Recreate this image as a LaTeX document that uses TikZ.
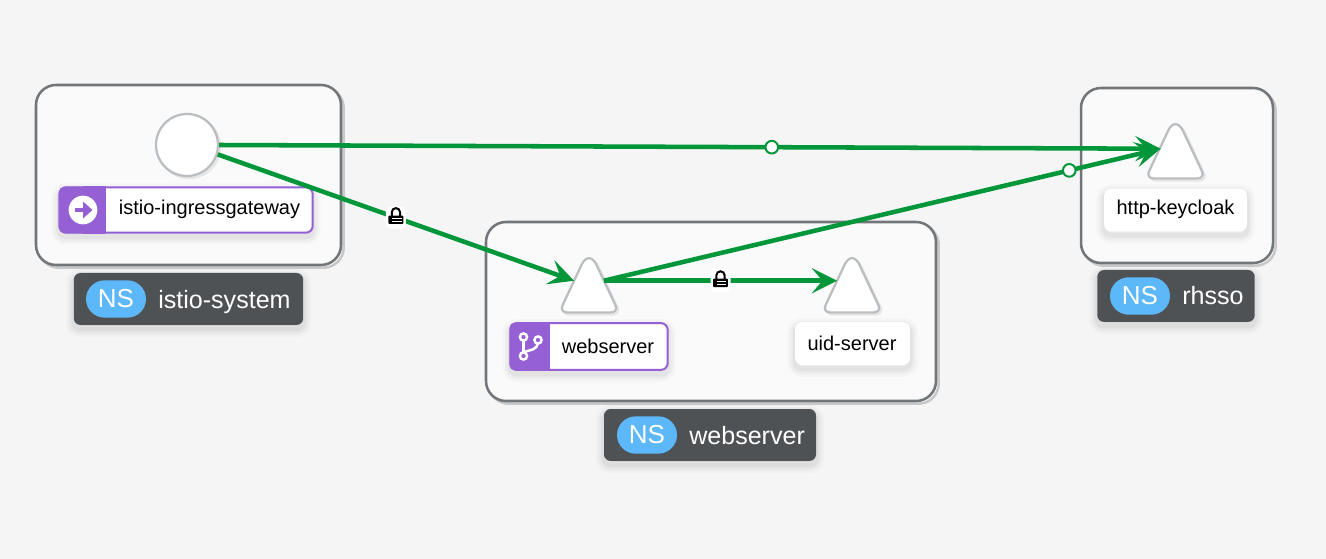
\documentclass[tikz,border=0pt]{standalone}
\usepackage{fontspec}
\setmainfont{Liberation Sans}
\usepackage{xcolor}
\usetikzlibrary{arrows.meta,shapes.geometric}
\definecolor{pagebg}{HTML}{F5F5F5}
\definecolor{boxfill}{HTML}{FAFAFA}
\definecolor{boxline}{HTML}{737679}
\definecolor{edgegreen}{HTML}{009639}
\definecolor{badgepurple}{HTML}{9560D4}
\definecolor{nsdark}{HTML}{4F5255}
\definecolor{nsblue}{HTML}{5CB8F9}
\definecolor{nodeline}{HTML}{BBBEC1}
\tikzset{
  softshadow/.style={
    preaction={draw=black,draw opacity=.02,line width=12pt,transform canvas={yshift=-3pt}},
    preaction={draw=black,draw opacity=.03,line width=8pt,transform canvas={yshift=-3pt}},
    preaction={draw=black,draw opacity=.04,line width=4pt,transform canvas={yshift=-3pt}}},
  nsbox/.style={draw=boxline, fill=boxfill, line width=1.9pt, rounded corners=15pt,
    preaction={draw=black,draw opacity=.18,line width=1.9pt,transform canvas={xshift=2pt,yshift=-2pt}}},
  nslabel/.style={fill=nsdark, rounded corners=5pt, inner sep=0pt, softshadow},
  nspill/.style={fill=nsblue, rounded corners=14pt, minimum width=45pt, minimum height=28pt,
    text=white, font=\fontsize{19.5pt}{19.5pt}\selectfont, inner sep=0pt},
  nstext/.style={text=white, font=\fontsize{18.8pt}{18.8pt}\selectfont, inner sep=0pt},
  gwnode/.style={circle, draw=nodeline, fill=white, line width=1.7pt, minimum size=46.5pt, inner sep=0pt,
    preaction={draw=black,draw opacity=.08,line width=1.7pt,transform canvas={xshift=1.5pt,yshift=-1.5pt}}},
  svcnode/.style={isosceles triangle, isosceles triangle apex angle=50.4, shape border rotate=90,
    anchor=apex, inner sep=0pt, outer sep=0pt, minimum height=47.6pt},
  svcline/.style={draw=nodeline, fill=white, line width=1.7pt,
    preaction={draw=black,draw opacity=.08,line width=1.7pt,transform canvas={xshift=1.5pt,yshift=-1.5pt}}},
  whitelabel/.style={fill=white, rounded corners=5pt, inner sep=0pt, softshadow},
  purplelabel/.style={draw=badgepurple, fill=white, line width=1.5pt, rounded corners=5pt, inner sep=0pt, softshadow},
  badge/.style={fill=badgepurple, rounded corners=4pt, inner sep=0pt},
  labeltext/.style={font=\fontsize{15pt}{15pt}\selectfont, inner sep=0pt},
  flow/.style={draw=edgegreen, line width=3.4pt, -{Stealth[length=19pt,width=19pt,inset=8pt]}},
  dotmark/.style={circle, draw=edgegreen, fill=white, line width=1.5pt, minimum size=9.5pt, inner sep=0pt},
  lockmark/.style={fill=white, rounded corners=4pt, minimum width=15pt, minimum height=17pt, inner sep=0pt},
}
% rounded outline over the anchors of a triangle node
\newcommand{\svcshape}[1]{%
  \draw[svcline] (#1.lower side) [rounded corners=6pt] -- (#1.left corner)
    [rounded corners=13pt] -- (#1.apex) [rounded corners=6pt] -- (#1.right corner) -- cycle;}
% padlock over a lockmark node
\newcommand{\lockicon}[1]{%
  \begin{scope}[shift={(#1.center)}, x=1pt, y=1pt]
    \draw[black, line width=1.5pt] (-3.1,1) -- (-3.1,4) arc (180:0:3.1) -- (3.1,1);
    \fill[black, rounded corners=.7pt] (-5.6,-4.8) rectangle (5.6,1.5);
    \fill[white] (-2.8,-.75) rectangle (4.2,0);
    \fill[white] (-2.8,-3) rectangle (4.2,-2.25);
  \end{scope}}
\begin{document}
\begin{tikzpicture}[x=0.75pt,y=-0.75pt]
    \path[use as bounding box, fill=pagebg] (0,0) rectangle (1326,559);

    % Namespaces
    \draw[nsbox] (36,85) rectangle (341,265);
    \draw[nsbox] (486,222) rectangle (936,401);
    \draw[nsbox] (1081,88) rectangle (1273,263);

    % Namespace labels
    \node[nslabel, minimum width=172pt, minimum height=39pt] (systemtag) at (188.5,299) {};
    \node[nspill] (systempill) at (116,299) {NS};
    \node[nstext, anchor=base west] (systemname) at (158,308) {istio-system};
    \node[nslabel, minimum width=159pt, minimum height=39pt] (webtag) at (710,435) {};
    \node[nspill] (webpill) at (647,435) {NS};
    \node[nstext, anchor=base west] (webname) at (689,444) {webserver};
    \node[nslabel, minimum width=118pt, minimum height=39pt] (ssotag) at (1176,296) {};
    \node[nspill] (ssopill) at (1140,296) {NS};
    \node[nstext, anchor=base west] (ssoname) at (1182,305) {rhsso};

    % Graph nodes
    \node[gwnode] (gw) at (187,145) {};
    \node[svcnode] (web) at (589,249) {};
    \node[svcnode] (uid) at (852,249) {};
    \node[svcnode] (key) at (1175.5,115) {};
    \svcshape{web}
    \svcshape{uid}
    \svcshape{key}

    % Node labels
    \node[purplelabel, minimum width=190pt, minimum height=34pt] (gwlabel) at (186,210) {};
    \node[badge, minimum width=35pt, minimum height=35pt] (gwbadge) at (82.5,210) {};
    \fill[badgepurple] (gwbadge.north) rectangle (gwbadge.south east);
    \node[circle, fill=white, minimum size=21.5pt, inner sep=0pt] (gwicon) at (83,210) {};
    \draw[badgepurple, line width=2.6pt] (75,210) -- (85,210);
    \fill[badgepurple] (83,201.5) -- (92.5,210) -- (83,218.5) -- cycle;
    \node[labeltext] (gwtext) at (209.5,209) {istio-ingressgateway};

    \node[purplelabel, minimum width=118pt, minimum height=35pt] (weblabel) at (589,346.5) {};
    \node[badge, minimum width=30pt, minimum height=36pt] (webbadge) at (529.5,346.5) {};
    \fill[badgepurple] (webbadge.north) rectangle (webbadge.south east);
    \node[labeltext] (webtext) at (608,346) {webserver};
    % git branch icon
    \draw[white, line width=1.9pt] (523.5,340) -- (523.5,352);
    \draw[white, line width=1.9pt, rounded corners=4pt] (538,344) -- (538,348) -- (524,352);
    \draw[white, fill=badgepurple, line width=1.8pt] (523.5,337) circle (3.6);
    \draw[white, fill=badgepurple, line width=1.8pt] (538,340) circle (3.6);
    \draw[white, fill=badgepurple, line width=1.8pt] (523.5,356) circle (3.6);

    \node[whitelabel, minimum width=86pt, minimum height=32pt] (uidlabel) at (852.5,343.5) {};
    \node[labeltext] (uidtext) at (852,343) {uid-server};
    \node[whitelabel, minimum width=107pt, minimum height=32pt] (keylabel) at (1175.5,210) {};
    \node[labeltext] (keytext) at (1175.5,209) {http-keycloak};

    % Connectors
    \coordinate (keyport) at ([yshift=-1.5pt]key.left side);
    \draw[flow] (gw.0) -- (keyport) node[pos=.587, dotmark] (plain1) {};
    \draw[flow] (gw.-17) -- (web.left side) node[pos=.5, lockmark] (lock1) {};
    \draw[flow] (web.right side) -- (keyport) node[pos=.836, dotmark] (plain2) {};
    \draw[flow] (web.right side) -- (uid.left side) node[pos=.5, lockmark] (lock2) {};
    \lockicon{lock1}
    \lockicon{lock2}
\end{tikzpicture}
\end{document}
